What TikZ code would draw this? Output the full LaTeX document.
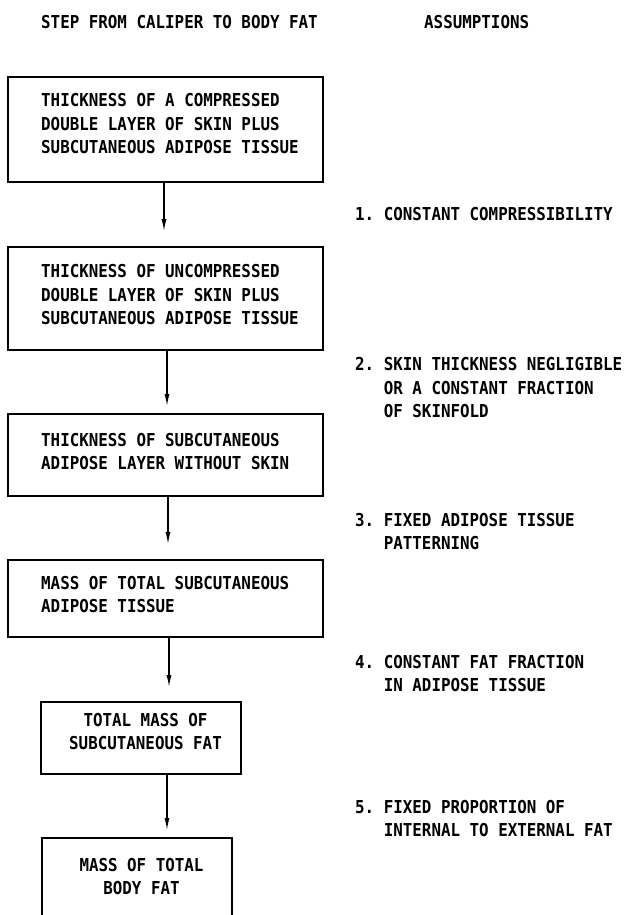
\documentclass[tikz,border=0pt]{standalone}
\usepackage{fontspec}
\newfontfamily\monocond[FakeStretch=0.89]{DejaVu Sans Mono}
\usetikzlibrary{arrows.meta}
\begin{document}
\begin{tikzpicture}[x=1pt,y=-1pt,
  txt/.style={inner sep=0pt,anchor=base west,align=left,
    font=\monocond\bfseries\fontsize{17.8}{23.3}\selectfont},
  ctxt/.style={inner sep=0pt,anchor=base,align=center,
    font=\monocond\bfseries\fontsize{17.8}{23.3}\selectfont},
  stepbox/.style={draw,line width=1.8pt,inner sep=0pt},
  openbox/.style={inner sep=0pt},
  arr/.style={line width=1.3pt,-{Latex[length=12pt,width=5pt]}}]
\useasboundingbox (0,0) rectangle (625,915);
% headers
\node[txt] (h1) at (41,28.5) {STEP FROM CALIPER TO BODY FAT};
\node[txt] (h2) at (424,28.5) {ASSUMPTIONS};
% boxes
\node[stepbox,minimum width=315pt,minimum height=105pt] (b1) at (165.5,129.5) {};
\node[stepbox,minimum width=315pt,minimum height=103pt] (b2) at (165.5,298.5) {};
\node[stepbox,minimum width=315pt,minimum height=82pt] (b3) at (165.5,455) {};
\node[stepbox,minimum width=315pt,minimum height=77pt] (b4) at (165.5,598.5) {};
\node[stepbox,minimum width=200pt,minimum height=72pt] (b5) at (141,738) {};
\node[openbox,minimum width=190pt,minimum height=90pt,anchor=north] (b6) at (137,838) {};
\draw[line width=1.8pt] (b6.south west) -- (b6.north west) -- (b6.north east) -- (b6.south east);
% box texts (anchor = baseline of last line)
\node[txt] (t1) at (41,153.5) {THICKNESS OF A COMPRESSED\\DOUBLE LAYER OF SKIN PLUS\\SUBCUTANEOUS ADIPOSE TISSUE};
\node[txt] (t2) at (41,324.5) {THICKNESS OF UNCOMPRESSED\\DOUBLE LAYER OF SKIN PLUS\\SUBCUTANEOUS ADIPOSE TISSUE};
\node[txt] (t3) at (41,469.5) {THICKNESS OF SUBCUTANEOUS\\ADIPOSE LAYER WITHOUT SKIN};
\node[txt] (t4) at (41,612.5) {MASS OF TOTAL SUBCUTANEOUS\\ADIPOSE TISSUE};
\node[ctxt] (t5) at (145.5,749.5) {TOTAL MASS OF\\SUBCUTANEOUS FAT};
\node[ctxt] (t6) at (141.5,894.5) {MASS OF TOTAL\\BODY FAT};
% assumptions
\node[txt] (a1) at (355,220.5) {1.~CONSTANT COMPRESSIBILITY};
\node[txt] (a2) at (355,417.5) {2.~SKIN THICKNESS NEGLIGIBLE\\\phantom{2.~}OR A CONSTANT FRACTION\\\phantom{2.~}OF SKINFOLD};
\node[txt] (a3) at (355,549.5) {3.~FIXED ADIPOSE TISSUE\\\phantom{3.~}PATTERNING};
\node[txt] (a4) at (355,691.5) {4.~CONSTANT FAT FRACTION\\\phantom{4.~}IN ADIPOSE TISSUE};
\node[txt] (a5) at (355,836.5) {5.~FIXED PROPORTION OF\\\phantom{5.~}INTERNAL TO EXTERNAL FAT};
% arrows
\draw[arr,shorten >=15pt] ([xshift=-1.5pt]b1.south) -- ([xshift=-1.5pt]b1.south |- b2.north);
\draw[arr,shorten >=7pt] ([xshift=1.5pt]b2.south) -- ([xshift=1.5pt]b2.south |- b3.north);
\draw[arr,shorten >=15pt] ([xshift=2.5pt]b3.south) -- ([xshift=2.5pt]b3.south |- b4.north);
\draw[arr,shorten >=14pt] ([xshift=3.5pt]b4.south) -- ([xshift=3.5pt]b4.south |- b5.north);
\draw[arr,shorten >=8pt] ([xshift=26pt]b5.south) -- ([xshift=26pt]b5.south |- b6.north);
\end{tikzpicture}
\end{document}
